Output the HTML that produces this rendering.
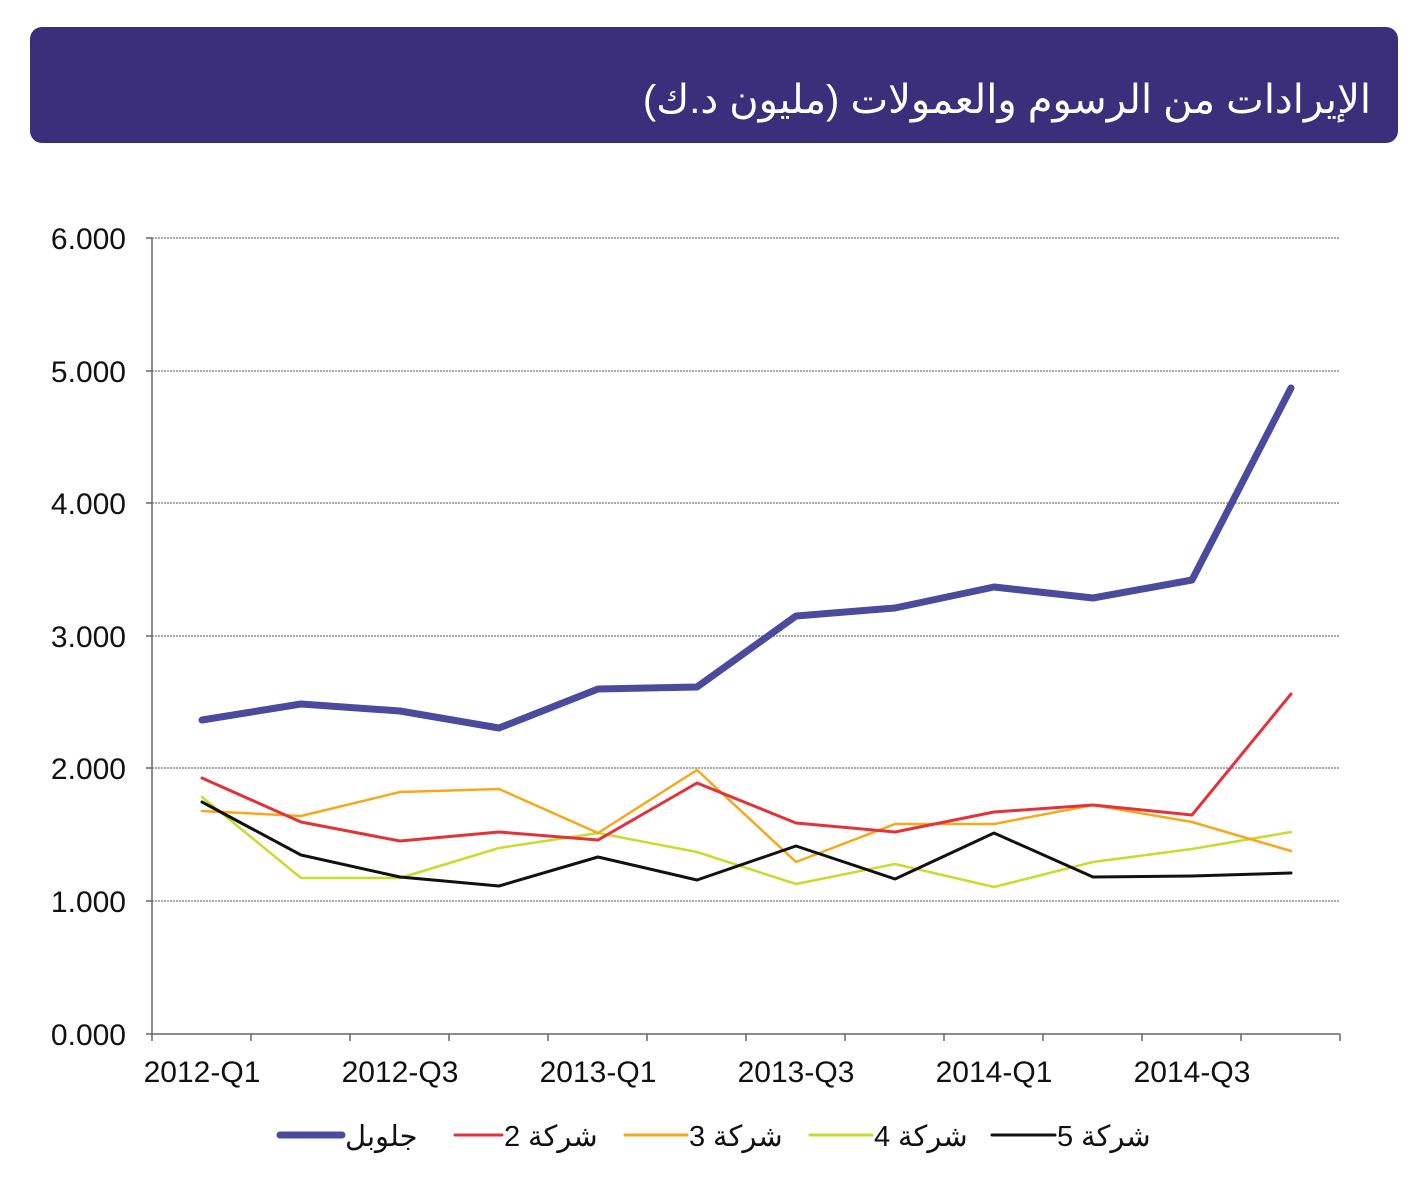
<!DOCTYPE html>
<html><head><meta charset="utf-8"><style>
body{margin:0;background:#fff;position:relative;width:1417px;height:1191px;overflow:hidden;}
svg{display:block;font-family:"Liberation Sans","Noto Sans CJK SC",sans-serif;}
#t{position:absolute;right:46px;top:75px;color:#fff;font-family:"Liberation Sans","DejaVu Sans",sans-serif;font-size:40px;direction:rtl;white-space:nowrap;line-height:50px;}
</style></head><body>
<svg width="1417" height="1191" viewBox="0 0 1417 1191">
<rect x="30" y="27" width="1368" height="116" rx="12" fill="#3b2f7c"/>
<g stroke="#777" stroke-width="1.2" stroke-dasharray="2,1">
<line x1="152" y1="238" x2="1340" y2="238"/><line x1="152" y1="371" x2="1340" y2="371"/>
<line x1="152" y1="503" x2="1340" y2="503"/><line x1="152" y1="636" x2="1340" y2="636"/>
<line x1="152" y1="768" x2="1340" y2="768"/><line x1="152" y1="901" x2="1340" y2="901"/>
</g>
<g stroke="#666" stroke-width="1.5">
<line x1="152" y1="238" x2="152" y2="1034"/><line x1="146" y1="1034" x2="1340" y2="1034"/>
<line x1="146" y1="238" x2="152" y2="238"/><line x1="146" y1="371" x2="152" y2="371"/><line x1="146" y1="503" x2="152" y2="503"/><line x1="146" y1="636" x2="152" y2="636"/><line x1="146" y1="768" x2="152" y2="768"/><line x1="146" y1="901" x2="152" y2="901"/>
<path d="M152 1034v7M251 1034v7M350 1034v7M449 1034v7M548 1034v7M647 1034v7M746 1034v7M845 1034v7M944 1034v7M1043 1034v7M1142 1034v7M1241 1034v7M1340 1034v7"/>
</g>
<g font-size="30" fill="#111" text-anchor="end">
<text x="126" y="249">6.000</text><text x="126" y="382">5.000</text><text x="126" y="514">4.000</text>
<text x="126" y="647">3.000</text><text x="126" y="779">2.000</text><text x="126" y="912">1.000</text><text x="126" y="1045">0.000</text>
</g>
<g font-size="30" fill="#111" text-anchor="middle">
<text x="202" y="1082">2012-Q1</text><text x="400" y="1082">2012-Q3</text><text x="598" y="1082">2013-Q1</text>
<text x="796" y="1082">2013-Q3</text><text x="994" y="1082">2014-Q1</text><text x="1192" y="1082">2014-Q3</text>
</g>
<g fill="none" stroke-linejoin="round" stroke-linecap="round">
<polyline stroke="#c8dc2e" stroke-width="2.5" points="202,797 301,878 400,878 499,848 598,833 697,852 796,884 895,864 994,887 1093,862 1192,849 1291,832"/>
<polyline stroke="#f5a81c" stroke-width="2.5" points="202,811 301,816 400,792 499,789 598,833 697,770 796,862 895,824 994,824 1093,805 1192,822 1291,851"/>
<polyline stroke="#e2323a" stroke-width="3" points="202,778 301,822 400,841 499,832 598,840 697,783 796,823 895,832 994,812 1093,805 1192,815 1291,694"/>
<polyline stroke="#111" stroke-width="3" points="202,802 301,855 400,877 499,886 598,857 697,880 796,846 895,879 994,833 1093,877 1192,876 1291,873"/>
<polyline stroke="#4a4b9c" stroke-width="7" points="202,720 301,704 400,711 499,728 598,689 697,687 796,616 895,608 994,587 1093,598 1192,580 1291,388"/>
</g>
<g stroke-linecap="round">
<line x1="280" y1="1135" x2="342" y2="1135" stroke="#4a4b9c" stroke-width="7"/>
<line x1="455" y1="1135" x2="502" y2="1135" stroke="#e2323a" stroke-width="3"/>
<line x1="625" y1="1135" x2="687" y2="1135" stroke="#f5a81c" stroke-width="3"/>
<line x1="810" y1="1135" x2="872" y2="1135" stroke="#c8dc2e" stroke-width="3"/>
<line x1="992" y1="1135" x2="1055" y2="1135" stroke="#111" stroke-width="3"/>
</g>
<g font-size="29" fill="#111">
<text x="345" y="1146">جلوبل</text>
<text x="504" y="1146">2</text><text x="528" y="1146">شركة</text>
<text x="689" y="1146">3</text><text x="713" y="1146">شركة</text>
<text x="874" y="1146">4</text><text x="898" y="1146">شركة</text>
<text x="1057" y="1146">5</text><text x="1081" y="1146">شركة</text>
</g>
</svg>
<div id="t">الإيرادات من الرسوم والعمولات (مليون د.ك)</div>
</body></html>
